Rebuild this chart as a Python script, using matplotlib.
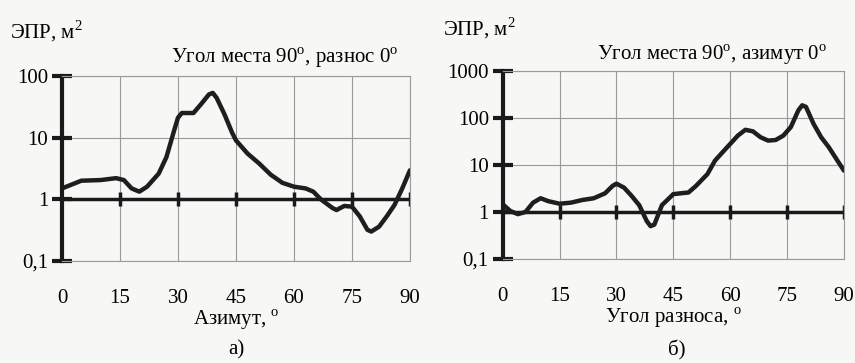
import matplotlib.pyplot as plt
import numpy as np

plt.rcParams['font.family'] = ['Liberation Serif', 'DejaVu Serif']
plt.rcParams['mathtext.fontset'] = 'custom'
plt.rcParams['mathtext.rm'] = 'Liberation Serif'

# (a) azimuth sweep, elevation 90, spacing 0
az = [0, 5, 10, 14, 16, 18, 20, 22, 25, 27, 29, 30, 31, 34, 36, 38, 39, 40, 42, 44,
      45, 48, 51, 54, 57, 60, 63, 65, 67, 70, 71, 73, 75, 77, 79, 80, 82, 84, 86, 88, 90]
epr_a = [1.5, 2.0, 2.05, 2.2, 2.05, 1.5, 1.33, 1.6, 2.6, 4.8, 13, 21, 25, 25, 35, 50, 53, 44, 24, 12,
         9, 5.5, 3.8, 2.5, 1.85, 1.6, 1.5, 1.33, 0.99, 0.72, 0.67, 0.78, 0.76, 0.53, 0.32, 0.30, 0.36, 0.53, 0.81, 1.5, 2.95]

# (b) spacing angle sweep, elevation 90, azimuth 0
sp = [0, 2, 4, 6, 8, 10, 12, 15, 18, 21, 24, 27, 29, 30, 32, 34, 36, 38, 39, 40, 42, 44, 45, 47,
      49, 51, 54, 56, 58, 60, 62, 64, 66, 68, 70, 72, 74, 76, 78, 79, 80, 82, 84, 86, 88, 90]
epr_b = [1.46, 1.05, 0.9, 1.0, 1.58, 1.96, 1.7, 1.5, 1.58, 1.8, 1.96, 2.5, 3.6, 4.0, 3.3, 2.2, 1.4, 0.64, 0.5, 0.54,
         1.4, 2.0, 2.4, 2.5, 2.6, 3.6, 6.4, 12.4, 18.7, 28, 42, 56, 52, 39, 33, 34, 42, 64, 146, 186, 172, 75, 39, 24, 13.5, 7.6]

xticks = [0, 15, 30, 45, 60, 75, 90]
bg = '#f7f7f5'
fs = 15
fig = plt.figure(figsize=(8.55, 3.63), dpi=100, facecolor=bg)


def panel(rect, x, y, ymax, title, xlabel, tag, ylab_xy, tag_x, title_xy):
    ax = fig.add_axes(rect, facecolor=bg)
    ax.set_yscale('log')
    ax.set_xlim(0, 90)
    ax.set_ylim(0.1, ymax)
    ax.grid(True, color='#9a9a9a', lw=0.8)
    for s in ['top', 'right', 'bottom']:
        ax.spines[s].set_color('#9a9a9a')
        ax.spines[s].set_linewidth(0.8)
    ax.spines['left'].set_linewidth(3)
    ax.spines['left'].set_color('#1a1a1a')
    yt = [10.0 ** k for k in range(-1, int(np.log10(ymax)) + 1)]
    ax.set_yticks(yt)
    ax.set_yticklabels(['0,1'] + ['%d' % v for v in yt[1:]])
    ax.yaxis.set_minor_locator(plt.NullLocator())
    ax.tick_params(axis='y', direction='inout', length=14, width=3, color='#1a1a1a',
                   labelsize=fs, pad=3)
    ax.set_xticks(xticks)
    ax.tick_params(axis='x', length=0, labelsize=fs, pad=20)
    ax.axhline(1, color='#1a1a1a', lw=2.5)
    ax.plot(xticks[1:], [1] * (len(xticks) - 1), ls='none', marker='|', ms=10, mew=2.5, color='#1a1a1a')
    ax.plot(x, y, color='#1e1e1e', lw=3.2, solid_capstyle='round', solid_joinstyle='round')
    ax.set_xlabel(xlabel, fontsize=fs, labelpad=0)
    fig.text(ylab_xy[0], ylab_xy[1], 'ЭПР, м$^2$', fontsize=fs, ha='left', va='center')
    fig.text(title_xy[0], title_xy[1], title, fontsize=fs, ha='right', va='center')
    fig.text(tag_x, 0.035, tag, fontsize=fs, ha='center', va='center')
    return ax


panel([0.0725, 0.281, 0.407, 0.51], az, epr_a, 100,
      'Угол места 90$^{\\mathrm{o}}$, разнос 0$^{\\mathrm{o}}$', 'Азимут, $^{\\mathrm{o}}$', 'а)',
      (0.012, 0.915), 0.276, (0.466, 0.84))
panel([0.588, 0.2865, 0.399, 0.518], sp, epr_b, 1000,
      'Угол места 90$^{\\mathrm{o}}$, азимут 0$^{\\mathrm{o}}$', 'Угол разноса, $^{\\mathrm{o}}$', 'б)',
      (0.518, 0.922), 0.792, (0.968, 0.85))

plt.savefig('out.png', dpi=100, facecolor=bg)
